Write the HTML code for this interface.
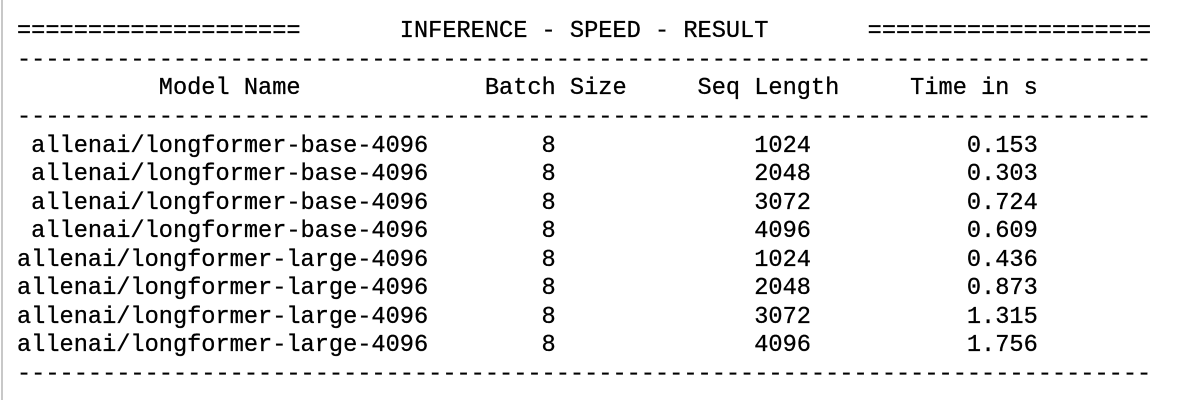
<!DOCTYPE html>
<html><head><meta charset="utf-8"><style>
html,body{margin:0;padding:0;background:#fff;}
body{width:1194px;height:400px;position:relative;overflow:hidden;}
#border{position:absolute;left:1px;top:0;width:2px;height:400px;background:#c8c8c8;}
pre{position:absolute;left:17px;top:18.4px;margin:0;font-family:"Liberation Mono",monospace;font-size:23.64px;line-height:28.55px;color:#000;-webkit-text-stroke:0.3px #000;}
</style></head><body>
<div id="border"></div>
<pre><span>====================       INFERENCE - SPEED - RESULT       ====================</span>
<span>--------------------------------------------------------------------------------</span>
<span>          Model Name             Batch Size     Seq Length     Time in s   </span>
<span>--------------------------------------------------------------------------------</span>
<span> allenai/longformer-base-4096        8              1024           0.153    </span>
<span> allenai/longformer-base-4096        8              2048           0.303    </span>
<span> allenai/longformer-base-4096        8              3072           0.724    </span>
<span> allenai/longformer-base-4096        8              4096           0.609    </span>
<span>allenai/longformer-large-4096        8              1024           0.436    </span>
<span>allenai/longformer-large-4096        8              2048           0.873    </span>
<span>allenai/longformer-large-4096        8              3072           1.315    </span>
<span>allenai/longformer-large-4096        8              4096           1.756    </span>
<span>--------------------------------------------------------------------------------</span></pre>
</body></html>
